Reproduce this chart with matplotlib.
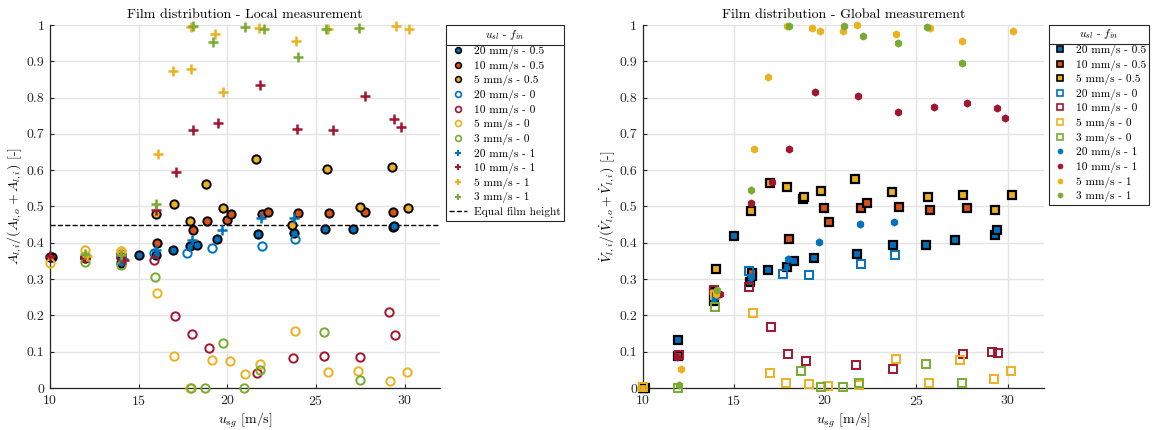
import numpy as np
import matplotlib
matplotlib.use("Agg")
import matplotlib.pyplot as plt
from matplotlib.lines import Line2D
from matplotlib.ticker import FuncFormatter

plt.rcParams['font.family'] = ['cmr10', 'DejaVu Serif']
plt.rcParams['mathtext.fontset'] = 'cm'
plt.rcParams['axes.formatter.use_mathtext'] = True
plt.rcParams['axes.unicode_minus'] = False

# ---------------- Local measurement: A_li / (A_lo + A_li) ----------------
loc_x_20_05 = [10.1, 12.0, 14.0, 15.03, 15.95, 16.91, 17.91, 18.28, 19.41, 21.73, 23.74, 25.49, 27.07, 29.32, 29.4]
loc_y_20_05 = [0.362, 0.357, 0.345, 0.367, 0.367, 0.379, 0.392, 0.394, 0.410, 0.425, 0.428, 0.437, 0.439, 0.443, 0.445]
loc_x_10_05 = [10.0, 12.0, 14.0, 16.03, 18.04, 18.88, 19.98, 20.22, 21.93, 22.29, 23.96, 25.71, 27.76, 29.36]
loc_y_10_05 = [0.36, 0.362, 0.36, 0.399, 0.434, 0.460, 0.463, 0.480, 0.480, 0.484, 0.482, 0.482, 0.484, 0.484]
loc_x_5_05 = [14.0, 15.95, 17.0, 17.91, 18.79, 19.75, 21.61, 23.64, 25.62, 27.5, 29.29, 30.19]
loc_y_5_05 = [0.37, 0.480, 0.507, 0.459, 0.562, 0.495, 0.630, 0.449, 0.603, 0.498, 0.608, 0.495]
loc_x_20_0 = [15.84, 17.72, 19.13, 21.95, 23.83]
loc_y_20_0 = [0.371, 0.371, 0.385, 0.392, 0.411]
loc_x_10_0 = [12.0, 14.0, 15.84, 17.06, 18.0, 18.98, 21.7, 23.70, 25.47, 27.5, 29.1, 29.44]
loc_y_10_0 = [0.36, 0.36, 0.353, 0.199, 0.149, 0.109, 0.040, 0.082, 0.088, 0.085, 0.209, 0.146]
loc_x_5_0 = [10.0, 12.0, 14.0, 16.06, 17.0, 17.87, 19.11, 20.16, 21.01, 21.86, 23.83, 25.68, 27.39, 29.19, 30.13]
loc_y_5_0 = [0.345, 0.381, 0.378, 0.261, 0.088, 0.001, 0.078, 0.074, 0.039, 0.066, 0.158, 0.045, 0.047, 0.020, 0.045]
loc_x_3_0 = [12.0, 14.03, 15.93, 17.95, 18.72, 19.75, 20.95, 21.86, 25.45, 27.46]
loc_y_3_0 = [0.347, 0.339, 0.305, 0.001, 0.0, 0.125, 0.0, 0.050, 0.153, 0.021]
loc_x_20_1 = [14.1, 15.95, 18.0, 19.69, 21.9, 23.78]
loc_y_20_1 = [0.356, 0.380, 0.408, 0.434, 0.468, 0.468]
loc_x_10_1 = [10.0, 11.96, 14.18, 15.97, 17.10, 18.04, 19.47, 21.82, 23.93, 25.94, 27.74, 29.38, 29.81]
loc_y_10_1 = [0.364, 0.359, 0.353, 0.491, 0.595, 0.711, 0.730, 0.835, 0.713, 0.711, 0.805, 0.741, 0.720]
loc_x_5_1 = [12.1, 14.0, 16.08, 16.91, 17.95, 17.95, 19.32, 19.75, 21.76, 23.89, 25.68, 29.53, 30.23]
loc_y_5_1 = [0.364, 0.376, 0.645, 0.874, 0.879, 0.994, 0.975, 0.816, 0.993, 0.955, 0.990, 0.996, 0.990]
loc_x_3_1 = [12.0, 14.0, 15.97, 18.04, 19.22, 21.01, 22.08, 23.96, 25.56, 27.44]
loc_y_3_1 = [0.37, 0.365, 0.507, 0.996, 0.952, 0.994, 0.990, 0.911, 0.990, 0.992]
equal_height = 0.45

# ---------------- Global measurement: V_li / (V_lo + V_li) ----------------
glo_x_20_05 = [10.1, 11.94, 13.88, 15.0, 15.9, 16.0, 16.88, 17.91, 18.27, 19.4, 21.72, 23.74, 25.55, 27.12, 29.34, 29.43]
glo_y_20_05 = [0.0, 0.133, 0.240, 0.419, 0.291, 0.308, 0.326, 0.333, 0.350, 0.358, 0.368, 0.394, 0.393, 0.407, 0.421, 0.434]
glo_x_10_05 = [10.05, 11.94, 13.92, 15.99, 18.0, 19.95, 20.22, 21.98, 22.27, 24.05, 25.73, 27.8]
glo_y_10_05 = [0.0, 0.087, 0.265, 0.316, 0.410, 0.495, 0.457, 0.497, 0.509, 0.498, 0.491, 0.497]
glo_x_5_05 = [10.0, 14.03, 15.91, 16.96, 17.91, 18.79, 18.86, 19.76, 21.61, 23.66, 25.62, 27.54, 29.32, 30.24]
glo_y_5_05 = [0.0, 0.327, 0.488, 0.566, 0.554, 0.521, 0.525, 0.542, 0.575, 0.539, 0.527, 0.533, 0.491, 0.533]
glo_x_20_0 = [15.84, 17.71, 19.10, 21.96, 23.85]
glo_y_20_0 = [0.321, 0.314, 0.312, 0.341, 0.367]
glo_x_10_0 = [12.0, 13.92, 15.8, 17.05, 17.97, 18.97, 21.7, 23.7, 27.54, 29.17, 29.48]
glo_y_10_0 = [0.09, 0.27, 0.279, 0.168, 0.094, 0.073, 0.062, 0.053, 0.094, 0.098, 0.096]
glo_x_5_0 = [10.0, 13.95, 16.02, 16.98, 17.86, 19.12, 20.14, 21.87, 23.86, 25.71, 27.42, 29.25, 30.2]
glo_y_5_0 = [0.002, 0.255, 0.206, 0.041, 0.013, 0.011, 0.006, 0.007, 0.081, 0.014, 0.077, 0.025, 0.047]
glo_x_3_0 = [11.94, 13.97, 18.68, 19.78, 20.97, 21.87, 25.53, 27.51]
glo_y_3_0 = [0.0, 0.222, 0.046, 0.003, 0.003, 0.014, 0.065, 0.014]
glo_x_20_1 = [13.97, 15.93, 17.97, 19.69, 21.92, 23.79]
glo_y_20_1 = [0.252, 0.307, 0.355, 0.401, 0.452, 0.457]
glo_x_10_1 = [11.9, 14.21, 15.93, 17.09, 18.02, 19.47, 21.81, 23.97, 25.99, 27.78, 29.41, 29.85]
glo_y_10_1 = [0.085, 0.258, 0.509, 0.568, 0.659, 0.816, 0.805, 0.759, 0.773, 0.784, 0.772, 0.744]
glo_x_5_1 = [12.1, 14.0, 16.08, 16.88, 17.91, 19.30, 19.72, 21.0, 21.76, 23.9, 25.73, 27.49, 30.29]
glo_y_5_1 = [0.053, 0.26, 0.659, 0.858, 0.997, 0.993, 0.984, 0.983, 0.999, 0.975, 0.993, 0.955, 0.984]
glo_x_3_1 = [12.0, 14.07, 15.93, 18.02, 21.02, 22.07, 24.01, 25.58, 27.49]
glo_y_3_1 = [0.007, 0.271, 0.546, 0.997, 0.997, 0.970, 0.949, 0.994, 0.895]

labels = ['20 mm/s - 0.5', '10 mm/s - 0.5', '5 mm/s - 0.5',
          '20 mm/s - 0', '10 mm/s - 0', '5 mm/s - 0', '3 mm/s - 0',
          '20 mm/s - 1', '10 mm/s - 1', '5 mm/s - 1', '3 mm/s - 1']
x_ticks = [10, 15, 20, 25, 30]
y_ticks = np.round(np.arange(0, 1.01, 0.1), 1)

C_BLUE = '#0072BD'
C_ORANGE = '#D95319'
C_YELLOW = '#EDB120'
C_RED = '#A2142F'
C_GREEN = '#77AC30'
colors = [C_BLUE, C_ORANGE, C_YELLOW, C_BLUE, C_RED, C_YELLOW, C_GREEN,
          C_BLUE, C_RED, C_YELLOW, C_GREEN]

local_series = [(loc_x_20_05, loc_y_20_05), (loc_x_10_05, loc_y_10_05), (loc_x_5_05, loc_y_5_05),
                (loc_x_20_0, loc_y_20_0), (loc_x_10_0, loc_y_10_0), (loc_x_5_0, loc_y_5_0), (loc_x_3_0, loc_y_3_0),
                (loc_x_20_1, loc_y_20_1), (loc_x_10_1, loc_y_10_1), (loc_x_5_1, loc_y_5_1), (loc_x_3_1, loc_y_3_1)]
global_series = [(glo_x_20_05, glo_y_20_05), (glo_x_10_05, glo_y_10_05), (glo_x_5_05, glo_y_5_05),
                 (glo_x_20_0, glo_y_20_0), (glo_x_10_0, glo_y_10_0), (glo_x_5_0, glo_y_5_0), (glo_x_3_0, glo_y_3_0),
                 (glo_x_20_1, glo_y_20_1), (glo_x_10_1, glo_y_10_1), (glo_x_5_1, glo_y_5_1), (glo_x_3_1, glo_y_3_1)]

FS = 10
LFS = 8.2
fig = plt.figure(figsize=(11.55, 4.3), dpi=100)
ax1 = fig.add_axes([0.0433, 0.0977, 0.3377, 0.8442])
ax2 = fig.add_axes([0.5565, 0.0977, 0.3474, 0.8442])


def style_axes(ax):
    ax.set_xlim(10, 32)
    ax.set_ylim(0, 1)
    ax.set_xticks(x_ticks)
    ax.set_yticks(y_ticks)
    ax.yaxis.set_major_formatter(FuncFormatter(lambda v, p: '%g' % v))
    ax.grid(True, color='#e3e3e3', linewidth=1.0)
    ax.set_axisbelow(True)
    for s in ['top', 'right']:
        ax.spines[s].set_visible(False)
    for s in ['left', 'bottom']:
        ax.spines[s].set_color('#262626')
        ax.spines[s].set_linewidth(0.9)
    ax.tick_params(direction='in', length=3, width=0.8, colors='#262626',
                   labelsize=FS, pad=4)
    ax.set_xlabel(r'$u_{sg}$ [m/s]', fontsize=FS, labelpad=2)


def make_legend(ax, handles, names, anchor, pad):
    leg = ax.legend(handles=handles, labels=names, loc='upper left', bbox_to_anchor=anchor,
                    bbox_transform=fig.transFigure, borderaxespad=0, fontsize=LFS,
                    title=r'$u_{sl}$ - $f_{in}$', title_fontsize=LFS, fancybox=False,
                    edgecolor='#262626', framealpha=1,
                    handlelength=1.6, handletextpad=0.6, labelspacing=0.32,
                    borderpad=pad)
    leg.get_frame().set_linewidth(0.8)
    return leg


def add_separator(leg):
    fig.canvas.draw()
    r = fig.canvas.get_renderer()
    tb = leg.get_title().get_window_extent(r)
    fb = leg.get_frame().get_window_extent(r)
    y = tb.y0 - 3
    inv = fig.transFigure.inverted()
    (x0, yy), (x1, _) = inv.transform([(fb.x0, y), (fb.x1, y)])
    fig.add_artist(Line2D([x0, x1], [yy, yy], transform=fig.transFigure,
                          color='#262626', linewidth=0.8))


def proxy(**kw):
    return Line2D([], [], linestyle='none', **kw)


# ---- Local measurement ----
style_axes(ax1)
leg_handles1 = []
for i, ((x, y), c) in enumerate(zip(local_series, colors)):
    if i < 3:
        kw = dict(marker='o', ms=6, mfc=c, mec='black', mew=1.4)
        pk = dict(marker='o', ms=4.2, mfc=c, mec='black', mew=1.1)
    elif i < 7:
        kw = dict(marker='o', ms=6, mfc='none', mec=c, mew=1.4)
        pk = dict(marker='o', ms=4.2, mfc='none', mec=c, mew=1.2)
    else:
        kw = dict(marker='+', ms=6.5, mec=c, mew=1.8)
        pk = dict(marker='+', ms=4.5, mec=c, mew=1.5)
    ax1.plot(x, y, linestyle='none', clip_on=False, zorder=3, **kw)
    leg_handles1.append(proxy(**pk))
ax1.axhline(equal_height, color='black', linestyle='--', linewidth=1.0, zorder=2)
leg_handles1.append(Line2D([], [], color='black', linestyle='--', linewidth=1.0))
ax1.set_title('Film distribution - Local measurement', fontsize=FS, pad=5)
ax1.set_ylabel(r'$A_{l,i}/(A_{l,o}+A_{l,i})$ [-]', fontsize=FS, labelpad=2)
leg1 = make_legend(ax1, leg_handles1, labels + ['Equal film height'], (0.3859, 0.9419), 0.3)

# ---- Global measurement ----
style_axes(ax2)
leg_handles2 = []
for i, ((x, y), c) in enumerate(zip(global_series, colors)):
    if i < 3:
        kw = dict(marker='s', ms=5.5, mfc=c, mec='black', mew=1.6)
        pk = dict(marker='s', ms=4.2, mfc=c, mec='black', mew=1.2)
    elif i < 7:
        kw = dict(marker='s', ms=5.5, mfc='none', mec=c, mew=1.4)
        pk = dict(marker='s', ms=4.2, mfc='none', mec=c, mew=1.2)
    else:
        kw = dict(marker='o', ms=4.5, mfc=c, mec=c, mew=0.8)
        pk = dict(marker='o', ms=3.5, mfc=c, mec=c, mew=0.6)
    ax2.plot(x, y, linestyle='none', clip_on=False, zorder=3, **kw)
    if i >= 7:
        ax2.plot(x, y, linestyle='none', clip_on=False, marker=(6, 2, 0),
                 ms=5.5, mec=c, mew=1.0, alpha=0.6, zorder=3)
    leg_handles2.append(proxy(**pk))
ax2.set_title('Film distribution - Global measurement', fontsize=FS, pad=5)
ax2.set_ylabel(r'$\dot{V}_{l,i}/(\dot{V}_{l,o}+\dot{V}_{l,i})$ [-]', fontsize=FS, labelpad=2)
leg2 = make_legend(ax2, leg_handles2, labels, (0.9080, 0.9419), 0.2)

add_separator(leg1)
add_separator(leg2)

fig.savefig('out.png', dpi=100)
